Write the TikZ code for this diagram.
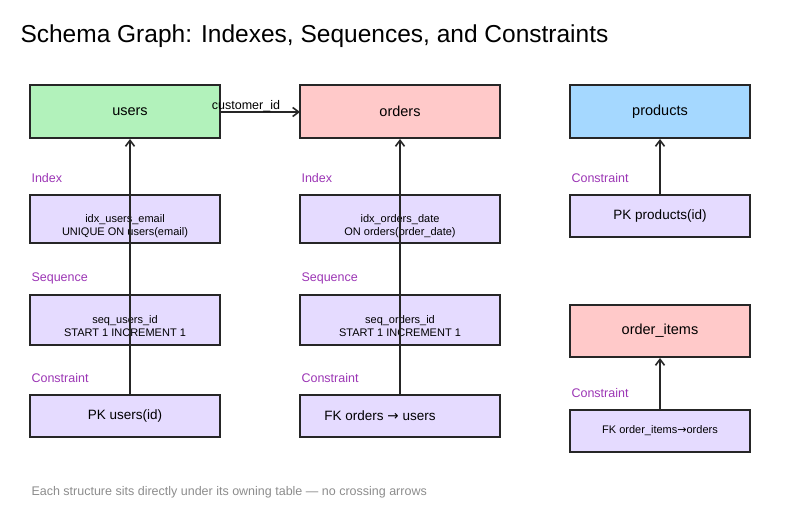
\documentclass[tikz,border=0pt]{standalone}
\usepackage{fontspec}
\setmainfont{Liberation Sans}
\newfontfamily\sym{DejaVu Sans}
\usetikzlibrary{arrows.meta}
\definecolor{gfill}{HTML}{B2F2BB}
\definecolor{rfill}{HTML}{FFC9C9}
\definecolor{bfill}{HTML}{A5D8FF}
\definecolor{pfill}{HTML}{E5DBFF}
\definecolor{lab}{HTML}{9C36B5}
\begin{document}
\begin{tikzpicture}[x=1pt,y=-1pt,
  box/.style={draw=black!85,line width=1.4pt,fill=#1},
  lbl/.style={anchor=west,text=lab,font=\fontsize{12.5}{14}\selectfont},
  txt/.style={font=\fontsize{14.5}{16}\selectfont,align=center},
  stxt/.style={font=\fontsize{11}{13}\selectfont,align=center},
  arr/.style={-{Straight Barb[length=6pt,width=9pt,line width=1.6pt]},line width=2pt,black!85}]
\useasboundingbox (0,0) rectangle (805,522);
\node[anchor=west,font=\fontsize{24.5}{28}\selectfont] (title) at (17,36) {Schema Graph: Indexes, Sequences, and Constraints};
% tables
\draw[box=gfill] (30,85) rectangle (220,138); \node[txt] (users) at (130,111.5) {users};
\draw[box=rfill] (300,85) rectangle (500,138); \node[txt] (orders) at (400,111.5) {orders};
\draw[box=bfill] (570,85) rectangle (750,138); \node[txt] (products) at (660,111.5) {products};
\draw[box=rfill] (570,305) rectangle (750,357); \node[txt] (oi) at (660,331) {order\_items};
% labels
\node[lbl] (l1) at (28,178) {Index};
\node[lbl] (l2) at (298,178) {Index};
\node[lbl] (l3) at (28,278) {Sequence};
\node[lbl] (l4) at (298,278) {Sequence};
\node[lbl] (l5) at (28,378) {Constraint};
\node[lbl] (l6) at (298,378) {Constraint};
\node[lbl] (l7) at (568,178) {Constraint};
\node[lbl] (l8) at (568,393) {Constraint};
% structures
\draw[box=pfill] (30,195) rectangle (220,243); \node[stxt] (iu) at (125,226) {idx\_users\_email\\UNIQUE ON users(email)};
\draw[box=pfill] (300,195) rectangle (500,243); \node[stxt] (io) at (400,226) {idx\_orders\_date\\ON orders(order\_date)};
\draw[box=pfill] (30,295) rectangle (220,345); \node[stxt] (su) at (125,326) {seq\_users\_id\\START 1 INCREMENT 1};
\draw[box=pfill] (300,295) rectangle (500,345); \node[stxt] (so) at (400,326) {seq\_orders\_id\\START 1 INCREMENT 1};
\draw[box=pfill] (30,395) rectangle (220,437); \node[txt,font=\fontsize{13.5}{15}\selectfont] (pu) at (125,416) {PK users(id)};
\draw[box=pfill] (300,395) rectangle (500,437); \node[txt,font=\fontsize{13.5}{15}\selectfont] (fo) at (380,416) {FK orders {\sym→} users};
\draw[box=pfill] (570,195) rectangle (750,237); \node[txt,font=\fontsize{13.5}{15}\selectfont] (pp) at (660,216) {PK products(id)};
\draw[box=pfill] (570,410) rectangle (750,452); \node[stxt] (fi) at (660,431) {FK order\_items{\sym→}orders};
% arrows
\coordinate (a1) at (130,395); \coordinate (b1) at (130,139);
\coordinate (a2) at (400,395); \coordinate (b2) at (400,139);
\coordinate (a3) at (660,195); \coordinate (b3) at (660,139);
\coordinate (a4) at (660,410); \coordinate (b4) at (660,358);
\coordinate (c1) at (220,112); \coordinate (c2) at (300,112);
\draw[arr] (a1) -- (b1);
\draw[arr] (a2) -- (b2);
\draw[arr] (a3) -- (b3);
\draw[arr] (a4) -- (b4);
\draw[arr] (c1) -- (c2);
\node[font=\fontsize{12.5}{14}\selectfont] (cid) at (246,106) {customer\_id};
\node[anchor=west,text=black!45,font=\fontsize{12.5}{14}\selectfont] (foot) at (28,492) {Each structure sits directly under its owning table — no crossing arrows};
\end{tikzpicture}
\end{document}
